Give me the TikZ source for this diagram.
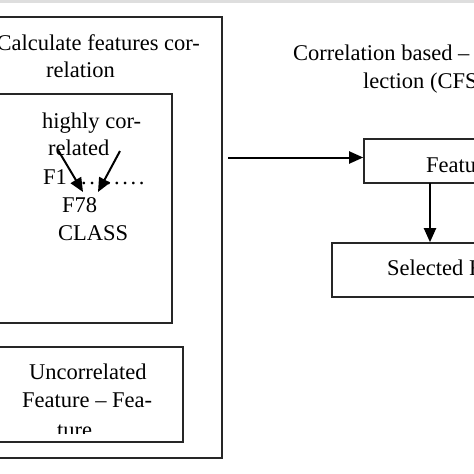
\documentclass[tikz,border=0pt]{standalone}
\usepackage{fontspec}
\setmainfont{Liberation Serif}
\usetikzlibrary{arrows.meta,calc}
\tikzset{
  box/.style={draw=black!85, line width=1.6pt, inner sep=0pt, fill=none},
  txt/.style={inner sep=0pt, anchor=base west, font=\fontsize{22.5}{27}\selectfont},
  arr/.style={draw=black, line width=2pt, -{Triangle[length=14pt,width=12pt]}}
}
\newcommand{\dotrow}{.\kern2.6pt.\kern2.6pt.\kern2.6pt.\kern2.6pt.\kern2.6pt.\kern2.6pt.\kern2.6pt.\kern2.6pt.}
\begin{document}
\begin{tikzpicture}[x=1pt,y=-1pt]
\useasboundingbox (0,0) rectangle (474,474);
\clip (0,0) rectangle (474,474);
\fill[black!13] (0,0) rectangle (474,2.5);
% left boxes
\node[box, minimum width=280pt, minimum height=441pt] (outer) at (82,237.5) {};
\node[box, minimum width=192pt, minimum height=229pt] (inner) at (76,208.5) {};
\node[box, minimum width=187pt, minimum height=95pt] (uncor) at (89.5,394.5) {};
% left texts
\node[txt] (c1) at (-3.5,50) {Calculate features cor-};
\node[txt] (c2) at (46,77) {relation};
\node[txt] (h1) at (42,128) {highly cor-};
\node[txt] (h2) at (48,155) {related};
\node[txt] (f1) at (43,184) {F1\kern6pt\dotrow};
\node[txt] (f78) at (62,212) {F78};
\node[txt] (cls) at (58,240) {CLASS};
\node[txt] (u1) at (29,379) {Uncorrelated};
\node[txt] (u2) at (22,407) {Feature -- Fea-};
\begin{scope}
\clip (0,0) rectangle (474,433.5);
\node[txt] (u3) at (57,437) {ture};
\end{scope}
% small arrows
\coordinate (s1) at (58,150);
\coordinate (e1) at (83,192);
\coordinate (s2) at (120,151);
\coordinate (e2) at (98,192);
\draw[arr] (s1) -- (e1);
\draw[arr] (s2) -- (e2);
% right side
\node[txt] (r1) at (293,60) {Correlation based -- Feature se-};
\node[txt] (r2) at (363,88) {lection (CFS)};
\node[box, minimum width=156pt, minimum height=44pt] (feat) at (442,161) {};
\node[txt] (ft) at (426,172) {Features};
\node[box, minimum width=198pt, minimum height=54pt] (sel) at (431,270) {};
\node[txt] (st) at (387,275) {Selected Features};
\coordinate (a0) at (228,157.5);
\draw[arr] (a0) -- (a0 -| feat.west);
\coordinate (d0) at (430,183);
\draw[arr] (d0) -- (d0 |- sel.north);
\end{tikzpicture}
\end{document}
